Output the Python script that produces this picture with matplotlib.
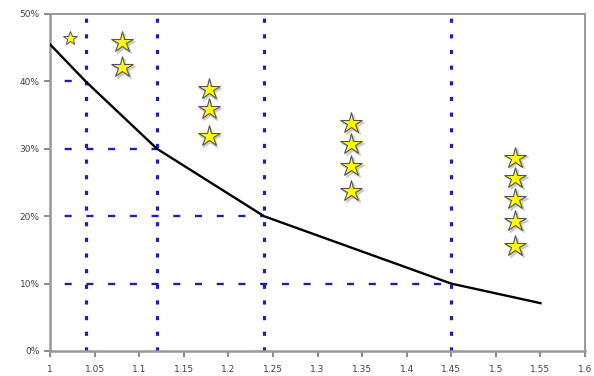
import numpy as np
import matplotlib
matplotlib.use('Agg')
import matplotlib.pyplot as plt
from matplotlib.ticker import PercentFormatter

# threshold curve (x, share)
curve_x = [1.0, 1.04, 1.12, 1.24, 1.45, 1.55]
curve_y = [45.5, 40, 30, 20, 10, 7.1]

# guide lines: vertical marker positions and their matching levels
guide_x = [1.04, 1.12, 1.24, 1.45]
guide_y = [40, 30, 20, 10]

# star columns
star_x = [1.081, 1.081,
          1.178, 1.178, 1.178,
          1.338, 1.338, 1.338, 1.338,
          1.522, 1.522, 1.522, 1.522, 1.522]
star_y = [45.8, 42.1,
          38.8, 35.9, 31.9,
          33.8, 30.7, 27.4, 23.7,
          28.7, 25.6, 22.5, 19.3, 15.6]
small_star = (1.022, 46.4)

xticks = np.round(np.arange(1.0, 1.601, 0.05), 2)
xticklabels = ['1', '1.05', '1.1', '1.15', '1.2', '1.25', '1.3', '1.35', '1.4',
               '1.45', '1.5', '1.55', '1.6']
yticks = [0, 10, 20, 30, 40, 50]

fig = plt.figure(figsize=(5.94, 3.76), dpi=100)
ax = fig.add_axes([50/594, 1-351/376, 535/594, 337/376])

blue = '#1f1fa8'
for gx, gy in zip(guide_x, guide_y):
    ax.plot([gx, gx], [0, 50], color=blue, lw=2.3, linestyle=(0, (1.3, 3.6)),
            dash_capstyle='butt', zorder=2)
    ax.plot([1.0, gx], [gy, gy], color=blue, lw=1.7, linestyle=(3, (3.0, 6.2)),
            dash_capstyle='butt', zorder=2)

ax.plot(curve_x, curve_y, color='black', lw=1.7, zorder=3)

# stars with a faint shadow
ax.plot(np.array(star_x) + 0.0015, np.array(star_y) - 0.25, linestyle='none',
        marker='*', ms=16, mfc='#cccccc', mec='#cccccc', zorder=4)
ax.plot(star_x, star_y, linestyle='none', marker='*', ms=16,
        mfc='#ffff00', mec='#555555', mew=0.8, zorder=5)
ax.plot([small_star[0]], [small_star[1]], linestyle='none', marker='*', ms=10.5,
        mfc='#ffff00', mec='#555555', mew=0.7, zorder=5)

ax.set_xlim(1.0, 1.6)
ax.set_ylim(0, 50)
ax.set_xticks(xticks)
ax.set_xticklabels(xticklabels)
ax.set_yticks(yticks)
ax.yaxis.set_major_formatter(PercentFormatter(decimals=0))

for side in ['left', 'bottom']:
    ax.spines[side].set_color('#999999')
    ax.spines[side].set_linewidth(1.8)
for side in ['top', 'right']:
    ax.spines[side].set_color('#999999')
    ax.spines[side].set_linewidth(1.4)

ax.tick_params(axis='both', colors='#777777', labelcolor='#444444',
               labelsize=6.5, length=4, width=1.2, direction='out')
ax.tick_params(axis='x', pad=6)

fig.savefig('out.png', dpi=100)
